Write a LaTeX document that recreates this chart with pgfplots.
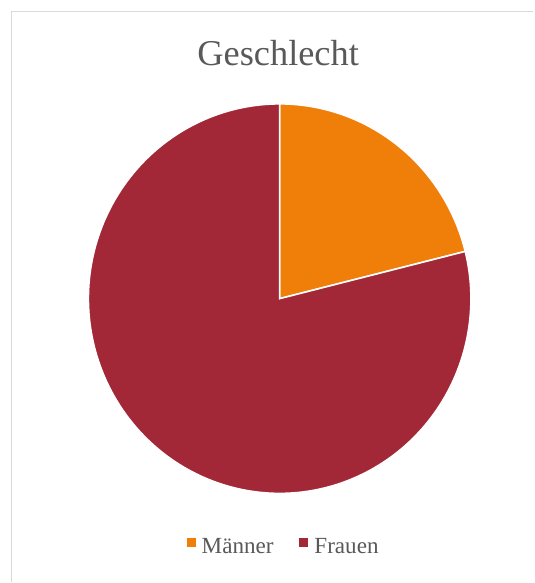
\documentclass[border=0pt]{standalone}
\usepackage{fontspec}
\setmainfont{Liberation Serif}
\usepackage{pgfplots}
\usepackage{pgfplotstable}
\pgfplotsset{compat=1.18}
\definecolor{cMen}{HTML}{F07F09}
\definecolor{cWomen}{HTML}{A22838}
\definecolor{txt}{HTML}{595959}
\definecolor{frame}{HTML}{D9D9D9}
\pgfplotstableread{
label value
Männer 21.1
Frauen 78.9
}\piedata
\pgfplotstablegetelem{0}{value}\of\piedata
\let\vmen\pgfplotsretval
\pgfplotstablegetelem{1}{value}\of\piedata
\let\vwomen\pgfplotsretval
\pgfmathsetmacro{\aA}{90-3.6*\vmen}
\pgfmathsetmacro{\aB}{\aA-3.6*\vwomen}
\def\cx{280}\def\cy{284}\def\rx{191.5}\def\ry{195}
\begin{document}
\begin{tikzpicture}
\begin{axis}[
  scale only axis, width=534bp, height=583bp,
  xmin=0, xmax=534, ymin=0, ymax=583,
  hide axis, clip=false,
  legend columns=2,
  legend style={at={(axis cs:284,36)}, anchor=center, draw=none, fill=none,
    font=\fontsize{23.2}{26}\selectfont, text=txt,
    /tikz/every odd column/.append style={column sep=4bp},
    /tikz/every even column/.append style={column sep=24bp},
    inner sep=0pt, row sep=0pt},
  legend image code/.code={\fill[#1,draw=none] (0bp,-1bp) rectangle (9bp,8bp);},
]
\fill[white] (axis cs:0,0) rectangle (axis cs:534,583);
\draw[frame, line width=1.4bp] (axis cs:11.5,0) -- (axis cs:11.5,571.5) -- (axis cs:534,571.5);
\addplot[fill=cMen, draw=white, line width=1.6bp, domain=\aA:90, samples=80]
  ({\cx+\rx*cos(x)},{\cy+\ry*sin(x)}) -- (axis cs:\cx,\cy) -- cycle;
\addlegendentry{Männer}
\addplot[fill=cWomen, draw=white, line width=1.6bp, domain=\aB:\aA, samples=200]
  ({\cx+\rx*cos(x)},{\cy+\ry*sin(x)}) -- (axis cs:\cx,\cy) -- cycle;
\addlegendentry{Frauen}
\node[anchor=base, text=txt, font=\fontsize{36.5}{40}\selectfont, inner sep=0pt]
  at (axis cs:278.5,517) {Geschlecht};
\end{axis}
\end{tikzpicture}
\end{document}
